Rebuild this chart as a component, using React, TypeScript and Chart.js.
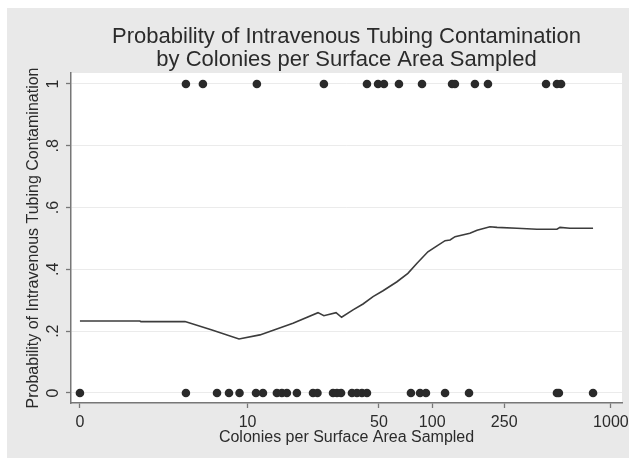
import React, { useEffect, useRef } from "react";
import { Chart, registerables } from "chart.js";

Chart.register(...registerables);

// Axis: log-type colonies scale; positions are in decades from the "0" tick
const xTickLabels = ["0", "10", "50", "100", "250", "1000"];
const xTickPos = [0, 0.938, 1.673, 1.971, 2.374, 2.971];

const yTickValues = [0, 0.2, 0.4, 0.6, 0.8, 1];
const yTickLabels = ["0", ".2", ".4", ".6", ".8", "1"];

// Observed samples (positions on the colonies axis)
const contaminatedPos = [
  0.593, 0.688, 0.99, 1.365, 1.606, 1.668, 1.701, 1.785, 1.914, 2.082, 2.098,
  2.21, 2.283, 2.608, 2.669, 2.692,
];
const cleanPos = [
  0, 0.593, 0.767, 0.834, 0.893, 0.985, 1.024, 1.102, 1.13, 1.158, 1.214,
  1.304, 1.329, 1.416, 1.438, 1.461, 1.522, 1.55, 1.578, 1.606, 1.852, 1.903,
  1.936, 2.043, 2.177, 2.669, 2.68, 2.871,
];

// Smoothed probability curve
const curvePos = [
  0, 0.336, 0.341, 0.588, 0.739, 0.89, 1.007, 1.192, 1.332, 1.365, 1.433,
  1.464, 1.528, 1.584, 1.64, 1.696, 1.774, 1.835, 1.886, 1.947, 1.998, 2.043,
  2.071, 2.099, 2.182, 2.222, 2.294, 2.334, 2.445, 2.557, 2.669, 2.686, 2.742,
  2.871,
];
const curveProb = [
  0.233, 0.233, 0.231, 0.231, 0.204, 0.175, 0.188, 0.226, 0.26, 0.25, 0.26,
  0.245, 0.269, 0.288, 0.312, 0.331, 0.36, 0.387, 0.42, 0.457, 0.476, 0.493,
  0.495, 0.506, 0.517, 0.527, 0.538, 0.536, 0.533, 0.53, 0.53, 0.536, 0.533,
  0.533,
];

const FONT = "'Liberation Sans', Arial, Helvetica, sans-serif";
const TEXT = "#2b2b2b";

const bgPlugin = {
  id: "stataBg",
  beforeDraw(chart: any) {
    const { ctx, chartArea } = chart;
    ctx.save();
    ctx.fillStyle = "#ffffff";
    ctx.fillRect(0, 0, chart.width, chart.height);
    ctx.fillStyle = "#e9e9e9";
    ctx.fillRect(7, 8, chart.width - 7, chart.height - 11);
    ctx.fillStyle = "#ffffff";
    ctx.fillRect(
      chartArea.left,
      chartArea.top,
      chartArea.right - chartArea.left,
      chartArea.bottom - chartArea.top
    );
    ctx.restore();
  },
  afterDraw(chart: any) {
    const { ctx } = chart;
    const ys = chart.scales.y;
    ctx.save();
    ctx.fillStyle = TEXT;
    ctx.font = `16px ${FONT}`;
    ctx.textAlign = "center";
    ctx.textBaseline = "middle";
    yTickValues.forEach((v, i) => {
      const py = ys.getPixelForValue(v);
      ctx.save();
      ctx.translate(54, py);
      ctx.rotate(-Math.PI / 2);
      ctx.fillText(yTickLabels[i], 0, 0);
      ctx.restore();
    });
    ctx.restore();
  },
};

export default function App() {
  const ref = useRef<HTMLCanvasElement | null>(null);
  useEffect(() => {
    if (!ref.current) return;
    const chart = new Chart(ref.current, {
      type: "scatter",
      data: {
        datasets: [
          {
            type: "line",
            label: "Predicted probability",
            data: curvePos.map((x, i) => ({ x, y: curveProb[i] })),
            borderColor: "#3c3c3c",
            borderWidth: 1.6,
            pointRadius: 0,
            tension: 0,
            fill: false,
          } as any,
          {
            label: "Contaminated",
            data: contaminatedPos.map((x) => ({ x, y: 1 })),
            backgroundColor: "#2a2a2a",
            borderColor: "#2a2a2a",
            pointRadius: 4.3,
            borderWidth: 0,
          },
          {
            label: "Not contaminated",
            data: cleanPos.map((x) => ({ x, y: 0 })),
            backgroundColor: "#2a2a2a",
            borderColor: "#2a2a2a",
            pointRadius: 4.3,
            borderWidth: 0,
          },
        ],
      },
      options: {
        responsive: false,
        animation: false,
        devicePixelRatio: 1,
        layout: { padding: { top: 0, right: 7, bottom: 0, left: 0 } },
        plugins: {
          legend: { display: false },
          tooltip: { enabled: false },
          title: {
            display: true,
            fullSize: false,
            text: [
              "Probability of Intravenous Tubing Contamination",
              "by Colonies per Surface Area Sampled",
            ],
            color: TEXT,
            font: { family: FONT, size: 22, weight: "normal", lineHeight: 1.045 },
            padding: { top: 25.5, bottom: 1.5 },
          },
        },
        scales: {
          x: {
            type: "linear",
            min: -0.05,
            max: 3.033,
            afterBuildTicks: (s: any) => {
              s.ticks = xTickPos.map((v) => ({ value: v }));
            },
            afterFit: (s: any) => {
              s.height = 58;
              s.paddingLeft = 0;
              s.paddingRight = 0;
            },
            ticks: {
              autoSkip: false,
              maxRotation: 0,
              minRotation: 0,
              padding: 5,
              color: TEXT,
              font: { family: FONT, size: 16 },
              callback: (v: any) => {
                const i = xTickPos.findIndex((p) => Math.abs(p - v) < 1e-6);
                return i >= 0 ? xTickLabels[i] : "";
              },
            },
            grid: {
              drawOnChartArea: false,
              drawTicks: true,
              tickLength: 5,
              tickColor: "#777777",
              tickWidth: 1.3,
            },
            border: { display: true, color: "#777777", width: 1.5 },
            title: {
              display: true,
              text: "Colonies per Surface Area Sampled",
              color: TEXT,
              font: { family: FONT, size: 16 },
              padding: { top: 0, bottom: 14 },
            },
          },
          y: {
            type: "linear",
            min: -0.0324,
            max: 1.0356,
            afterBuildTicks: (s: any) => {
              s.ticks = yTickValues.map((v) => ({ value: v }));
            },
            afterFit: (s: any) => {
              s.width = 71;
              s.paddingTop = 0;
              s.paddingBottom = 0;
            },
            ticks: { display: false },
            grid: {
              color: "#ebebeb",
              lineWidth: 1,
              drawTicks: true,
              tickLength: 5,
              tickColor: "#777777",
              tickWidth: 1.3,
            },
            border: { display: true, color: "#777777", width: 1.5 },
            title: {
              display: true,
              text: "Probability of Intravenous Tubing Contamination",
              color: TEXT,
              font: { family: FONT, size: 16 },
              padding: { top: 24.4, bottom: 0 },
            },
          },
        },
      },
      plugins: [bgPlugin],
    });
    return () => chart.destroy();
  }, []);
  return (
    <div style={{ position: "absolute", left: 0, top: 0, width: 629, height: 461 }}>
      <canvas ref={ref} width={629} height={461} />
    </div>
  );
}
